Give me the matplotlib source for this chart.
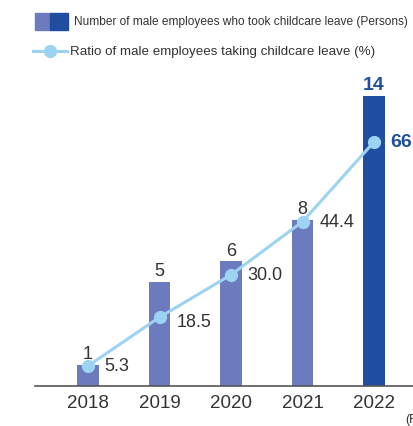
import matplotlib.pyplot as plt
from matplotlib.patches import Rectangle
from matplotlib.lines import Line2D

years = ["2018", "2019", "2020", "2021", "2022"]
persons = [1, 5, 6, 8, 14]
ratio = [5.3, 18.5, 30.0, 44.4, 66]
ratio_labels = ["5.3", "18.5", "30.0", "44.4", "66"]

bar_light = "#6b7bbe"
bar_dark = "#1f4ea0"
line_col = "#9dd3f2"
text_col = "#333333"

plt.rcParams["font.family"] = ["Liberation Sans", "DejaVu Sans"]

W, H = 414, 427
fig = plt.figure(figsize=(W / 100, H / 100), dpi=100)

# axes box in pixels: left edge 35, baseline at 386.5, top at 60
left, bottom, top = 35, H - 386.5, 60
ax = fig.add_axes([left / W, bottom / H, 1 - left / W, (H - top - bottom) / H])
ax_h = H - top - bottom

x = list(range(len(years)))
colors = [bar_light] * 4 + [bar_dark]
ax.bar(x, persons, width=0.3, color=colors, zorder=2)
ax.set_xlim(-53 / 71.5, (W - 88) / 71.5)
ax.set_ylim(0, ax_h / 20.7)

for s in ["top", "right", "left"]:
    ax.spines[s].set_visible(False)
ax.spines["bottom"].set_color("#555555")
ax.spines["bottom"].set_linewidth(1.2)
ax.set_yticks([])
ax.set_xticks(x)
ax.set_xticklabels(years, fontsize=13.5, color=text_col)
ax.tick_params(axis="x", length=0, pad=6)

for i, v in enumerate(persons):
    last = i == len(persons) - 1
    ax.annotate(str(v), (i, v), xytext=(0, 2), textcoords="offset points",
                ha="center", va="bottom",
                fontsize=14 if last else 13,
                color=bar_dark if last else text_col,
                fontweight="bold" if last else "normal")

# ratio line on a twin axis sharing the baseline
ax2 = ax.twinx()
ax2.set_ylim(0, ax_h / 3.69)
ax2.axis("off")
ax2.plot(x, ratio, color=line_col, lw=2.2, marker="o", ms=8.5, zorder=3)
for i, (v, lab) in enumerate(zip(ratio, ratio_labels)):
    last = i == len(ratio) - 1
    dy = -3 if i == 1 else 0
    ax2.annotate(lab, (i, v), xytext=(12, dy), textcoords="offset points",
                 ha="left", va="center",
                 fontsize=14 if last else 13,
                 color=bar_dark if last else text_col,
                 fontweight="bold" if last else "normal")

# legend drawn by hand
def fx(px):
    return px / W

def fy(py):
    return 1 - py / H

fig.patches.append(Rectangle((fx(35), fy(31)), fx(15.5), 17 / H, color=bar_light,
                             transform=fig.transFigure))
fig.patches.append(Rectangle((fx(50.5), fy(31)), fx(17), 17 / H, color=bar_dark,
                             transform=fig.transFigure))
fig.text(fx(74), fy(22.5), "Number of male employees who took childcare leave (Persons)",
         fontsize=8.6, color=text_col, va="center", ha="left")
fig.lines.append(Line2D([fx(33), fx(67)], [fy(52), fy(52)], color=line_col, lw=2.2,
                        transform=fig.transFigure))
fig.lines.append(Line2D([fx(50)], [fy(52)], color=line_col, marker="o", ms=8.5,
                        transform=fig.transFigure))
fig.text(fx(70), fy(52), "Ratio of male employees taking childcare leave (%)",
         fontsize=9.6, color=text_col, va="center", ha="left")

fig.text(fx(405), fy(420), "(FY)", fontsize=9, color=text_col, va="center", ha="left")

fig.savefig("out.png", dpi=100)
